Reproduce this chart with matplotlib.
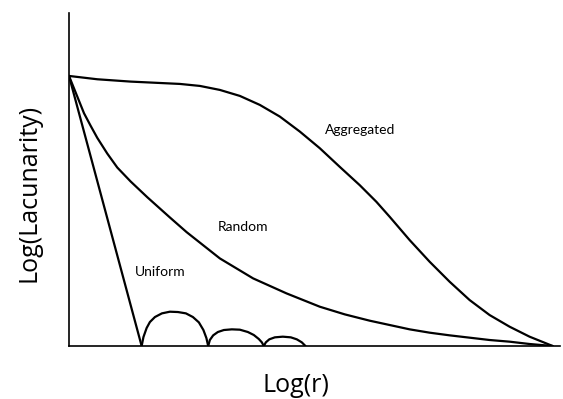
import matplotlib
matplotlib.use("Agg")
import matplotlib.pyplot as plt

# curves (x = log r, y = log lacunarity, arbitrary units)
agg_x = [0.0, 0.579, 1.262, 2.270, 2.679, 3.088, 3.497, 3.906, 4.315, 4.724, 5.133, 5.542,
         5.951, 6.292, 6.564, 6.973, 7.382, 7.791, 8.200, 8.609, 9.018, 9.427, 9.90]
agg_y = [8.11, 8.01, 7.94, 7.87, 7.81, 7.69, 7.51, 7.24, 6.89, 6.44, 5.94, 5.38,
         4.83, 4.33, 3.88, 3.18, 2.53, 1.93, 1.38, 0.93, 0.58, 0.28, 0.0]

rnd_x = [0.0, 0.170, 0.307, 0.444, 0.579, 0.783, 0.988, 1.262, 1.601, 2.065, 2.407, 3.088,
         3.769, 4.452, 5.133, 5.644, 6.155, 6.564, 6.973, 7.382, 7.791, 8.200, 8.609, 9.018, 9.427, 9.90]
rnd_y = [8.11, 7.49, 6.99, 6.61, 6.25, 5.78, 5.36, 4.94, 4.47, 3.86, 3.42, 2.63,
         2.03, 1.58, 1.18, 0.95, 0.76, 0.63, 0.50, 0.40, 0.32, 0.25, 0.18, 0.13, 0.06, 0.0]

# uniform: straight drop, then three bumps along the floor
uni_x = [0.0, 1.487]
uni_y = [8.11, 0.0]
bump1_x = [1.487, 1.524, 1.589, 1.656, 1.759, 1.902, 2.065, 2.229, 2.393, 2.536, 2.658, 2.751, 2.812, 2.849]
bump1_y = [0.0, 0.27, 0.54, 0.72, 0.87, 0.98, 1.03, 1.02, 0.98, 0.87, 0.71, 0.48, 0.24, 0.0]
bump2_x = [2.849, 2.883, 2.951, 3.047, 3.170, 3.333, 3.497, 3.661, 3.783, 3.885, 3.947, 3.988]
bump2_y = [0.0, 0.18, 0.32, 0.42, 0.48, 0.50, 0.49, 0.42, 0.33, 0.21, 0.11, 0.0]
bump3_x = [3.988, 4.029, 4.100, 4.213, 4.376, 4.540, 4.663, 4.765, 4.840]
bump3_y = [0.0, 0.11, 0.20, 0.26, 0.28, 0.26, 0.20, 0.11, 0.0]

labels = ["Aggregated", "Random", "Uniform"]
label_x = [5.95, 3.56, 1.86]
label_y = [6.49, 3.57, 2.22]

fig = plt.figure(figsize=(5.63, 3.99), dpi=100)
ax = fig.add_axes([69/563, 53/399, 491/563, 333/399])

kw = dict(color="black", lw=1.6, solid_joinstyle="round", solid_capstyle="round")
ax.plot(agg_x, agg_y, **kw)
ax.plot(rnd_x, rnd_y, **kw)
ax.plot(uni_x, uni_y, **kw)
for bx, by in [(bump1_x, bump1_y), (bump2_x, bump2_y), (bump3_x, bump3_y)]:
    ax.plot(bx, by, **kw)

for t, x, y in zip(labels, label_x, label_y):
    ax.text(x, y, t, ha="center", va="center", fontsize=10, family="Lato")

ax.set_xlim(0, 10.05)
ax.set_ylim(0, 10)
ax.spines["top"].set_visible(False)
ax.spines["right"].set_visible(False)
ax.spines["left"].set_linewidth(1.2)
ax.spines["bottom"].set_linewidth(1.2)
ax.set_xticks([])
ax.set_yticks([])

# axis titles
fig.text(296/563, 1 - 385/399, "Log(r)", fontsize=18, family="Open Sans",
         ha="center", va="center")
fig.text(29/563, 1 - 193/399, "Log(Lacunarity)", fontsize=18, family="Open Sans",
         ha="center", va="center", rotation=90)

fig.savefig("out.png", dpi=100)
